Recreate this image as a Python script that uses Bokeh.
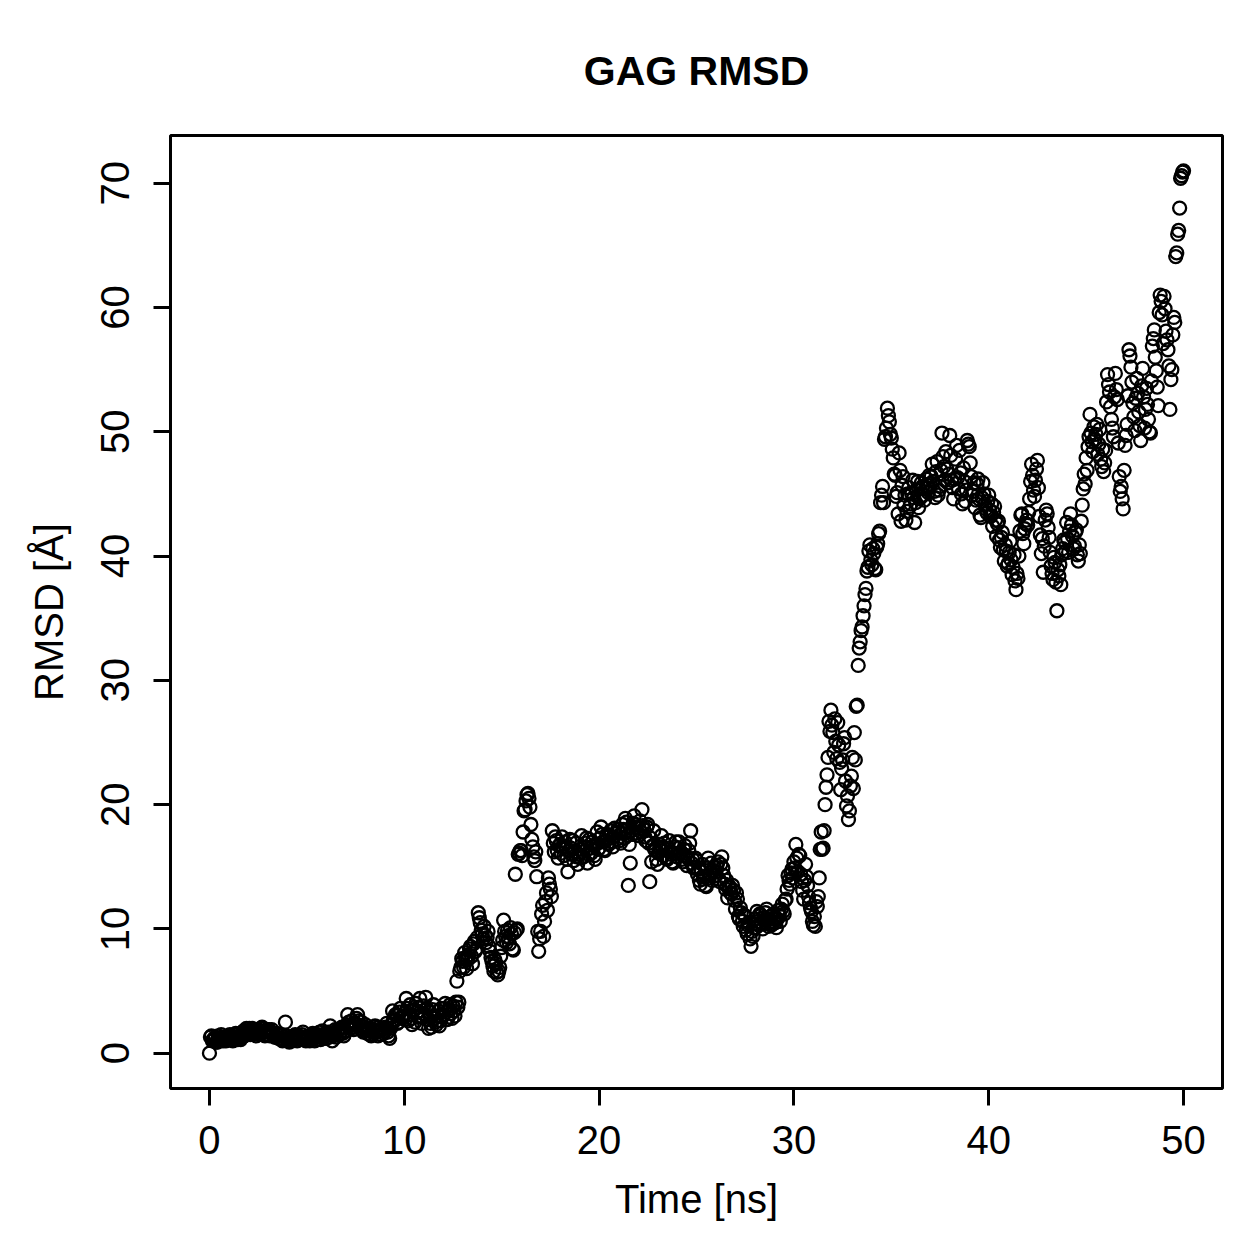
import numpy as np
from bokeh.plotting import figure
from bokeh.models import FixedTicker
from bokeh.embed import file_html
from bokeh.resources import INLINE

# RMSD of the GAG chain per trajectory frame (Angstrom), one frame every 0.05 ns,
# 20 frames per row
rmsd = [
    # 0 ns
    0.0, 1.3, 1.4, 1.0, 1.1, 1.2, 1.3, 0.9, 0.9, 1.4, 1.2, 1.0, 1.5, 1.3, 1.0, 1.2, 1.3, 1.0, 1.1, 1.4,
    # 1 ns
    1.2, 1.5, 1.4, 1.1, 1.0, 1.3, 1.3, 1.6, 1.5, 1.1, 1.2, 1.4, 1.1, 1.3, 1.6, 1.8, 1.4, 1.7, 2.0, 1.6,
    # 2 ns
    1.8, 2.0, 1.5, 1.7, 2.0, 1.6, 1.7, 1.9, 1.4, 1.6, 1.9, 1.5, 1.6, 2.0, 2.1, 1.7, 1.8, 1.4, 1.5, 1.9,
    # 3 ns
    1.7, 1.9, 1.4, 1.6, 1.9, 1.5, 1.6, 1.3, 1.3, 1.6, 1.5, 1.2, 1.2, 1.5, 1.4, 1.0, 1.1, 1.3, 2.5, 1.4,
    # 4 ns
    1.2, 1.0, 0.9, 1.2, 1.3, 1.0, 1.1, 1.4, 1.5, 1.2, 1.0, 1.3, 1.4, 1.1, 1.2, 1.5, 1.7, 1.2, 1.3, 1.0,
    # 5 ns
    1.1, 1.3, 1.4, 1.0, 1.2, 1.5, 1.6, 1.2, 1.0, 1.4, 1.3, 1.1, 1.5, 1.7, 1.1, 1.4, 1.8, 1.2, 1.4, 1.6,
    # 6 ns
    1.2, 1.5, 1.7, 1.3, 2.2, 1.6, 1.0, 1.4, 1.5, 1.9, 1.3, 1.7, 1.9, 1.5, 1.6, 2.0, 2.1, 1.6, 1.4, 1.8,
    # 7 ns
    1.8, 2.3, 3.1, 2.5, 2.2, 2.0, 2.6, 2.1, 1.9, 2.3, 2.4, 2.8, 3.1, 2.6, 2.0, 2.2, 2.5, 1.9, 1.7, 2.1,
    # 8 ns
    2.3, 1.9, 1.6, 1.8, 2.0, 1.5, 1.4, 1.7, 1.9, 2.1, 2.2, 1.8, 1.7, 1.4, 2.1, 1.8, 1.5, 1.9, 2.0, 1.6,
    # 9 ns
    1.8, 2.1, 2.4, 1.7, 1.4, 1.2, 2.0, 2.3, 3.4, 2.7, 2.6, 3.1, 3.0, 2.4, 2.5, 3.3, 3.6, 2.9, 2.8, 3.0,
    # 10 ns
    3.2, 2.7, 4.4, 3.6, 2.6, 3.1, 3.9, 2.8, 2.3, 3.4, 3.5, 2.5, 4.0, 3.3, 2.9, 3.7, 4.4, 3.0, 2.4, 3.2,
    # 11 ns
    3.8, 3.1, 4.5, 3.6, 2.7, 2.0, 3.3, 2.4, 2.1, 3.5, 3.9, 2.8, 2.5, 2.3, 3.0, 3.4, 2.2, 2.6, 3.6, 2.9,
    # 12 ns
    3.1, 3.6, 4.0, 3.3, 2.7, 2.9, 3.5, 3.9, 3.2, 2.8, 3.8, 3.4, 3.0, 4.1, 5.8, 3.7, 4.1, 6.6, 6.9, 7.6,
    # 13 ns
    7.4, 6.9, 8.1, 7.6, 6.8, 7.5, 7.9, 8.4, 8.6, 7.8, 7.2, 8.8, 9.0, 8.2, 8.4, 9.3, 11.3, 10.9, 10.5, 9.9,
    # 14 ns
    9.6, 9.2, 10.2, 9.5, 8.9, 9.3, 9.8, 8.6, 8.2, 7.7, 7.4, 7.0, 6.6, 7.5, 7.2, 6.5, 6.3, 6.6, 6.9, 7.8,
    # 15 ns
    8.5, 9.1, 10.7, 9.8, 9.4, 8.9, 9.9, 9.3, 8.8, 10.1, 9.6, 8.4, 8.3, 9.7, 14.4, 9.9, 10.0, 16.0, 16.1, 16.3,
    # 16 ns
    16.3, 15.9, 17.8, 19.5, 19.6, 20.3, 20.8, 20.9, 20.5, 19.8, 18.4, 17.2, 16.6, 15.8, 15.5, 16.2, 14.2, 9.8, 8.2, 9.2,
    # 17 ns
    9.8, 11.2, 11.9, 9.4, 10.6, 12.2, 12.9, 11.5, 14.1, 13.6, 13.2, 12.6, 17.9, 16.9, 16.2, 17.4, 17.1, 16.3, 15.7, 16.7,
    # 18 ns
    16.8, 16.1, 17.4, 16.6, 15.9, 17.0, 16.6, 15.6, 14.6, 16.3, 17.2, 16.5, 16.0, 17.1, 15.5, 16.2, 16.9, 15.8, 15.2, 16.0,
    # 19 ns
    16.4, 15.7, 17.5, 16.2, 15.8, 16.6, 16.9, 17.3, 15.3, 16.0, 17.2, 16.5, 16.1, 17.0, 16.7, 15.9, 15.6, 16.8, 17.8, 16.4,
    # 20 ns
    16.5, 17.3, 18.2, 17.6, 17.0, 16.4, 16.3, 17.1, 17.6, 16.9, 16.8, 17.5, 17.9, 17.0, 16.6, 17.4, 18.1, 17.7, 17.2, 18.0,
    # 21 ns
    17.8, 17.1, 16.9, 17.7, 18.4, 18.0, 17.3, 18.9, 18.6, 17.5, 13.5, 16.8, 15.3, 17.9, 17.6, 18.5, 19.1, 18.4, 18.2, 17.7,
    # 22 ns
    17.5, 18.1, 18.7, 17.8, 19.6, 18.3, 18.0, 17.4, 17.1, 18.2, 18.4, 16.9, 13.8, 17.3, 15.4, 16.7, 17.9, 16.4, 16.3, 15.6,
    # 23 ns
    15.2, 16.1, 16.8, 16.3, 17.5, 16.6, 15.9, 16.9, 16.4, 15.7, 15.6, 16.5, 17.1, 16.2, 16.0, 15.4, 15.3, 16.1, 16.6, 17.0,
    # 24 ns
    15.8, 16.5, 17.0, 16.1, 16.2, 15.6, 15.4, 16.4, 16.7, 15.9, 15.1, 15.7, 16.3, 16.9, 17.9, 15.3, 15.6, 14.9, 15.0, 15.7,
    # 25 ns
    15.5, 14.4, 14.8, 13.9, 13.6, 14.6, 15.2, 14.0, 14.2, 13.5, 13.4, 14.9, 15.7, 14.1, 14.5, 15.3, 13.9, 14.7, 15.0, 14.3,
    # 26 ns
    14.6, 15.1, 15.4, 14.0, 13.8, 15.2, 15.8, 14.9, 14.3, 13.6, 13.2, 13.9, 12.5, 13.3, 13.4, 12.9, 12.8, 13.5, 13.1, 12.3,
    # 27 ns
    11.6, 12.9, 12.4, 11.0, 10.8, 11.7, 11.3, 10.6, 10.2, 11.1, 11.0, 9.9, 9.6, 10.3, 10.5, 9.2, 8.6, 9.8, 9.4, 10.1,
    # 28 ns
    10.8, 10.1, 11.4, 10.6, 10.3, 11.2, 11.1, 10.5, 10.0, 10.9, 10.7, 11.3, 11.6, 10.4, 10.2, 10.8, 11.0, 10.3, 10.4, 11.2,
    # 29 ns
    10.9, 10.5, 10.1, 10.8, 11.5, 11.1, 10.6, 11.6, 12.0, 11.4, 11.2, 12.3, 12.4, 13.2, 14.3, 13.9, 13.6, 14.5, 14.8, 14.1,
    # 30 ns
    15.4, 14.9, 16.8, 15.7, 14.6, 16.0, 15.9, 14.4, 13.8, 13.1, 12.4, 13.9, 15.2, 14.2, 13.5, 12.6, 12.1, 11.7, 11.4, 10.6,
    # 31 ns
    10.3, 11.0, 10.2, 12.2, 11.8, 12.6, 14.1, 16.4, 17.8, 16.4, 16.5, 17.9, 20.0, 21.4, 22.4, 23.8, 26.7, 25.9, 27.6, 26.4,
    # 32 ns
    25.8, 24.2, 26.9, 25.1, 23.7, 26.6, 24.8, 23.4, 21.2, 22.9, 23.6, 24.9, 25.4, 21.9, 19.9, 20.7, 18.8, 19.5, 21.5, 22.3,
    # 33 ns
    23.8, 21.3, 25.8, 23.6, 27.9, 28.0, 31.2, 32.6, 33.1, 34.0, 34.3, 35.2, 36.0, 36.9, 37.4, 38.8, 39.1, 40.4, 40.9, 39.7,
    # 34 ns
    39.3, 40.6, 40.2, 39.0, 38.9, 40.7, 41.0, 41.8, 42.0, 44.3, 44.9, 45.6, 44.3, 49.4, 49.6, 50.3, 51.9, 51.3, 50.8, 49.8,
    # 35 ns
    49.5, 48.6, 47.9, 46.6, 46.5, 44.8, 45.1, 43.4, 48.3, 46.9, 42.8, 45.7, 46.4, 44.1, 44.9, 42.9, 43.6, 45.0, 45.5, 44.0,
    # 36 ns
    44.2, 45.0, 46.1, 44.7, 42.7, 44.3, 45.3, 46.0, 43.9, 44.6, 44.8, 45.9, 45.6, 44.9, 44.5, 45.4, 46.2, 45.7, 45.1, 46.5,
    # 37 ns
    45.8, 46.4, 47.4, 46.0, 45.2, 44.7, 46.8, 47.6, 44.9, 45.3, 45.6, 46.9, 49.9, 48.0, 47.2, 46.1, 48.4, 47.0, 45.9, 46.6,
    # 38 ns
    49.7, 48.1, 46.1, 45.5, 44.6, 46.2, 47.8, 48.9, 46.3, 45.4, 48.5, 46.7, 45.0, 44.2, 47.1, 46.0, 44.4, 45.3, 49.3, 49.0,
    # 39 ns
    48.8, 47.5, 46.4, 44.9, 45.2, 45.9, 43.9, 44.5, 45.8, 46.2, 44.6, 43.3, 43.1, 44.7, 45.9, 45.0, 44.2, 43.8, 43.5, 44.4,
    # 40 ns
    44.9, 43.7, 43.2, 44.2, 42.4, 43.5, 44.0, 42.9, 41.6, 42.6, 42.8, 41.3, 40.7, 41.5, 41.9, 40.5, 39.6, 40.9, 40.4, 39.2,
    # 41 ns
    39.4, 40.3, 41.2, 39.7, 38.5, 39.1, 40.1, 38.0, 37.3, 38.6, 38.2, 40.0, 42.0, 43.3, 43.4, 41.8, 41.0, 42.2, 42.6, 42.9,
    # 42 ns
    42.5, 43.5, 44.6, 46.0, 47.4, 46.5, 45.3, 44.8, 46.1, 47.0, 47.7, 45.5, 43.2, 41.7, 40.2, 41.4, 38.7, 40.8, 42.9, 43.7,
    # 43 ns
    43.4, 42.3, 41.5, 40.3, 39.2, 38.6, 38.1, 39.9, 39.5, 37.9, 35.6, 38.9, 38.4, 39.3, 37.7, 40.1, 40.6, 41.3, 41.1, 40.4,
    # 44 ns
    42.7, 41.4, 40.3, 42.0, 43.4, 42.5, 41.6, 40.6, 40.8, 41.9, 42.1, 40.1, 39.6, 40.9, 40.2, 42.8, 44.1, 45.4, 46.6, 45.8,
    # 45 ns
    47.9, 46.9, 48.8, 49.6, 51.4, 49.9, 49.2, 48.4, 50.4, 49.4, 49.8, 50.6, 48.2, 49.0, 50.2, 47.8, 47.2, 48.6, 46.8, 47.5,
    # 46 ns
    48.5, 52.4, 54.6, 53.8, 53.2, 52.0, 51.0, 50.3, 49.6, 52.8, 54.7, 53.4, 52.6, 49.1, 46.4, 45.2, 45.6, 44.6, 43.8, 46.9,
    # 47 ns
    48.9, 49.7, 50.6, 52.9, 56.6, 56.1, 55.2, 54.0, 52.3, 51.2, 50.1, 52.7, 54.3, 53.1, 51.6, 50.5, 49.3, 53.7, 55.1, 52.8,
    # 48 ns
    50.3, 51.8, 53.5, 52.2, 51.0, 50.0, 49.9, 54.1, 56.9, 57.5, 58.2, 56.0, 54.9, 53.6, 52.1, 59.6, 61.0, 60.5, 59.4, 57.1,
    # 49 ns
    60.9, 59.9, 58.1, 57.4, 56.6, 55.3, 51.8, 54.2, 55.0, 57.8, 59.2, 58.8, 64.1, 64.4, 65.9, 66.2, 68.0, 70.4, 70.6, 70.9,
    # 50 ns
    71.0,
]
frame_step_ns = 0.05
time_ns = np.round(np.arange(len(rmsd)) * frame_step_ns, 3)

x_ticks = [0, 10, 20, 30, 40, 50]
y_ticks = [0, 10, 20, 30, 40, 50, 60, 70]

FONT = "Liberation Sans"

p = figure(
    width=1259, height=1259,
    x_range=(-2, 52), y_range=(-2.84, 73.84),
    output_backend="svg", toolbar_location=None,
    min_border_left=170, min_border_right=37,
    min_border_top=135, min_border_bottom=171,
    title="GAG RMSD",
)

p.scatter(time_ns, rmsd, marker="circle", size=13,
          fill_color=None, line_color="black", line_width=2.3)

p.background_fill_color = "white"
p.border_fill_color = "white"
p.outline_line_color = "black"
p.outline_line_width = 3
p.grid.visible = False

p.title.align = "center"
p.title.text_font = FONT
p.title.text_font_style = "bold"
p.title.text_font_size = "41px"
p.title.text_color = "black"
p.title.standoff = 84

p.xaxis.ticker = FixedTicker(ticks=x_ticks)
p.yaxis.ticker = FixedTicker(ticks=y_ticks)
p.xaxis.axis_label = "Time [ns]"
p.yaxis.axis_label = "RMSD [Å]"
p.yaxis.major_label_orientation = "vertical"

for ax in (p.xaxis, p.yaxis):
    ax.axis_line_color = None
    ax.major_tick_in = 0
    ax.major_tick_out = 17
    ax.major_tick_line_width = 3
    ax.major_tick_line_color = "black"
    ax.minor_tick_line_color = None
    ax.major_label_text_font = FONT
    ax.major_label_text_font_size = "40px"
    ax.major_label_text_color = "black"
    ax.axis_label_text_font = FONT
    ax.axis_label_text_font_size = "40px"
    ax.axis_label_text_font_style = "normal"
    ax.axis_label_text_color = "black"

p.xaxis.major_label_standoff = 20
p.xaxis.axis_label_standoff = 20
p.yaxis.major_label_standoff = 24
p.yaxis.axis_label_standoff = 28

open("out.html", "w").write(file_html(p, INLINE))
